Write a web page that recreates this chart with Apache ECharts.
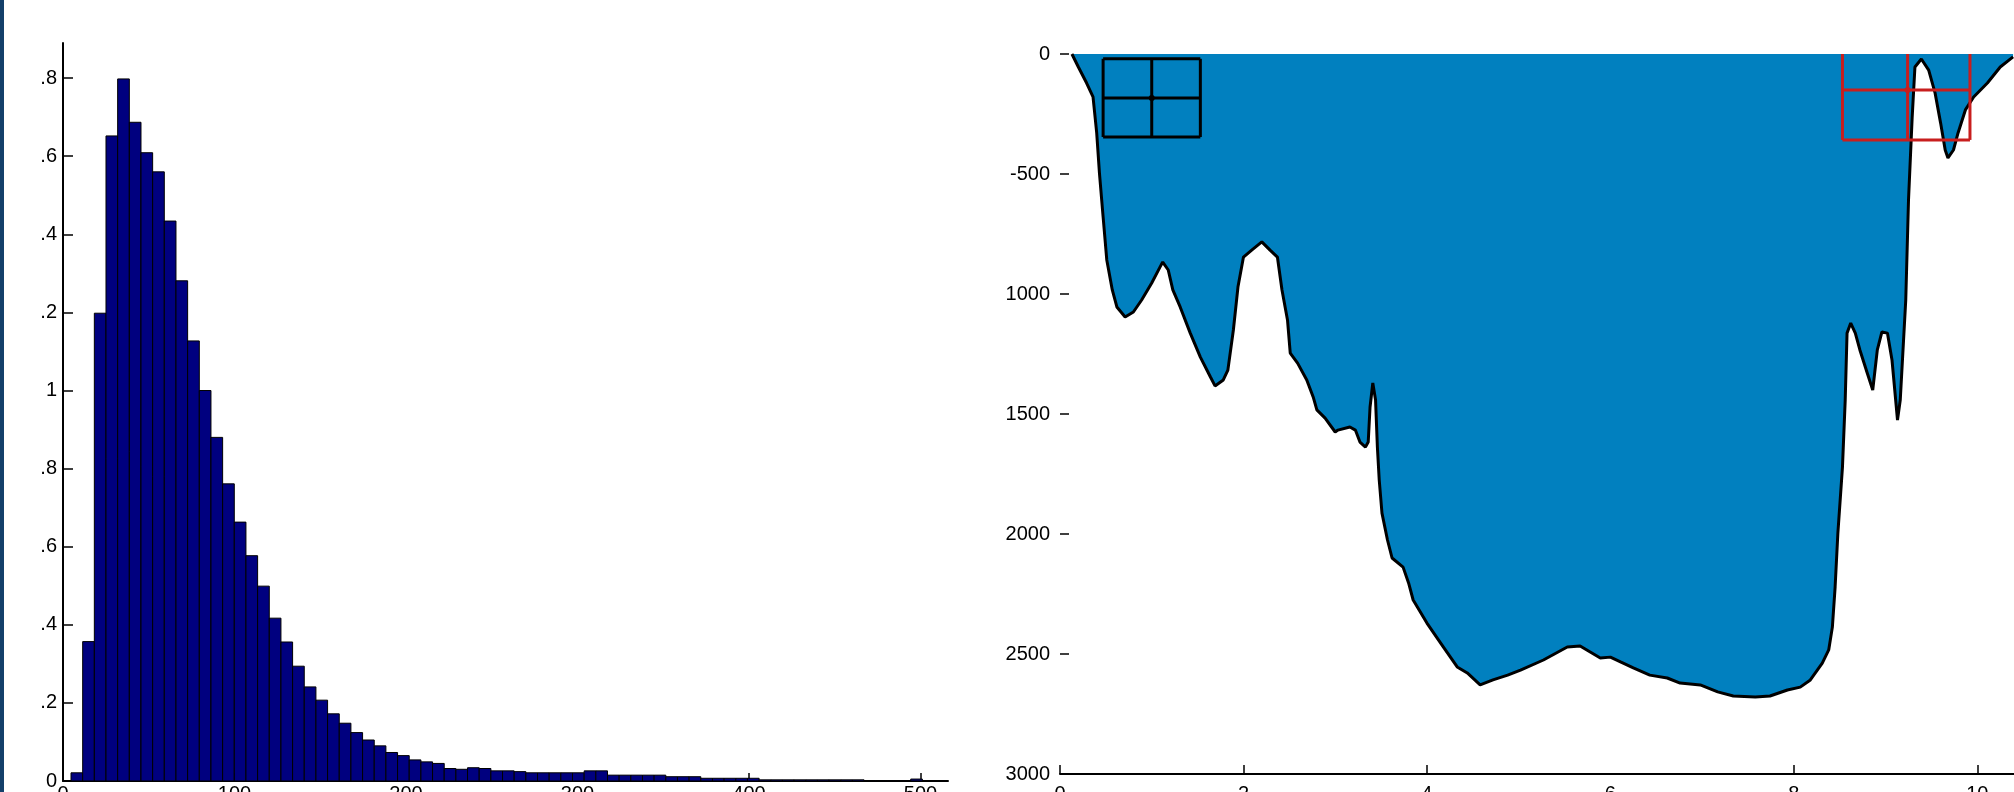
<!DOCTYPE html>
<html>
<head>
<meta charset="utf-8">
<title>Histogram and depth section</title>
<script src="https://cdn.jsdelivr.net/npm/echarts@6.0.0/dist/echarts.min.js"></script>
<style>
  html, body { margin: 0; padding: 0; background: #fff; }
  #chart { width: 2014px; height: 792px; }
</style>
</head>
<body>
<div id="chart"></div>
<script>
// ---- left panel: histogram ----
const histStart = 4.67;     // left edge of first bin
const histBinWidth = 6.8;
const histCounts = [
  0.021, 0.357, 1.198, 1.652, 1.798, 1.687, 1.609, 1.560, 1.434, 1.281,
  1.127, 1.000, 0.880, 0.761, 0.663, 0.577, 0.499, 0.417, 0.356, 0.294,
  0.241, 0.207, 0.172, 0.148, 0.124, 0.105, 0.090, 0.073, 0.065, 0.054,
  0.049, 0.045, 0.032, 0.030, 0.034, 0.032, 0.026, 0.026, 0.024, 0.021,
  0.021, 0.021, 0.021, 0.021, 0.026, 0.026, 0.015, 0.015, 0.015, 0.015,
  0.015, 0.011, 0.011, 0.011, 0.007, 0.007, 0.007, 0.007, 0.007, 0.003,
  0.003, 0.003, 0.003, 0.003, 0.003, 0.003, 0.003, 0.003, 0.001, 0.001,
  0.001, 0.001, 0.005
];
const histXTicks = [0, 100, 200, 300, 400, 500];
const histYTicks = [0, 0.2, 0.4, 0.6, 0.8, 1, 1.2, 1.4, 1.6, 1.8];

// ---- right panel: depth section ----
const sectionDist = [
  0.13, 0.20, 0.29, 0.36, 0.40, 0.43, 0.47, 0.51, 0.57, 0.62,
  0.71, 0.80, 0.89, 1.00, 1.09, 1.12, 1.18, 1.23, 1.31, 1.42,
  1.53, 1.64, 1.69, 1.78, 1.83, 1.89, 1.94, 2.00, 2.09, 2.20,
  2.29, 2.37, 2.42, 2.48, 2.51, 2.59, 2.69, 2.76, 2.80, 2.89,
  3.00, 3.03, 3.16, 3.22, 3.27, 3.33, 3.36, 3.38, 3.41, 3.44,
  3.46, 3.48, 3.51, 3.57, 3.62, 3.74, 3.80, 3.85, 4.00, 4.18,
  4.33, 4.44, 4.58, 4.72, 4.88, 5.02, 5.27, 5.53, 5.67, 5.78,
  5.89, 6.00, 6.11, 6.25, 6.43, 6.62, 6.76, 6.98, 7.17, 7.34,
  7.58, 7.74, 7.93, 8.07, 8.18, 8.31, 8.38, 8.42, 8.45, 8.48,
  8.53, 8.56, 8.58, 8.62, 8.67, 8.72, 8.80, 8.86, 8.91, 8.96,
  9.02, 9.07, 9.13, 9.16, 9.22, 9.25, 9.29, 9.32, 9.39, 9.47,
  9.54, 9.60, 9.65, 9.68, 9.74, 9.79, 9.87, 9.96, 10.11, 10.25,
  10.39
];
const sectionDepth = [
  0, 54, 121, 179, 329, 496, 679, 858, 983, 1054,
  1096, 1075, 1025, 954, 888, 867, 900, 983, 1054, 1163,
  1263, 1346, 1383, 1358, 1317, 1150, 971, 846, 817, 783,
  817, 846, 983, 1108, 1246, 1288, 1358, 1429, 1483, 1517,
  1575, 1567, 1554, 1567, 1617, 1638, 1617, 1471, 1371, 1442,
  1638, 1775, 1913, 2025, 2100, 2138, 2204, 2275, 2371, 2471,
  2554, 2579, 2629, 2608, 2588, 2567, 2525, 2471, 2467, 2492,
  2517, 2513, 2533, 2558, 2588, 2600, 2621, 2629, 2658, 2675,
  2679, 2675, 2650, 2638, 2608, 2538, 2483, 2388, 2221, 1996,
  1721, 1442, 1163, 1121, 1163, 1233, 1329, 1400, 1233, 1158,
  1163, 1275, 1525, 1442, 1025, 608, 263, 54, 21, 67,
  163, 288, 400, 433, 400, 329, 233, 179, 121, 54,
  12
];
const sectionXLabels = [0, 2, 4, 6, 8, 10];
const sectionXTickMarks = [0, 2, 4, 8, 10];
const sectionYTicks = [0, 500, 1000, 1500, 2000, 2500, 3000];

// 2x2 cell grids drawn on the section
const blackCellX = [0.47, 1.0, 1.53];
const blackCellDepth = [20, 183, 346];
const redCellX = [8.53, 9.24, 9.92];
const redCellDepth = [-58, 150, 358];

const FONT = 'Liberation Sans, Arial, sans-serif';

const histData = histCounts.map((h, i) => [
  histStart + i * histBinWidth,
  histStart + (i + 1) * histBinWidth,
  h
]);
const sectionData = sectionDist.map((x, i) => [x, sectionDepth[i]]);

function cellRenderer(xs, ds, color) {
  return function (params, api) {
    const children = [];
    xs.forEach(x => {
      const a = api.coord([x, ds[0]]);
      const b = api.coord([x, ds[2]]);
      children.push({ type: 'line', shape: { x1: a[0], y1: a[1], x2: b[0], y2: b[1] },
        style: { stroke: color, lineWidth: 3 } });
    });
    ds.forEach(d => {
      const a = api.coord([xs[0], d]);
      const b = api.coord([xs[2], d]);
      children.push({ type: 'line', shape: { x1: a[0], y1: a[1], x2: b[0], y2: b[1] },
        style: { stroke: color, lineWidth: 3 } });
    });
    const c = api.coord([xs[1], ds[1]]);
    children.push({ type: 'circle', shape: { cx: c[0], cy: c[1], r: 3 }, style: { fill: color } });
    return { type: 'group', children };
  };
}

function histLabel(v) {
  const s = Number(v).toFixed(1);
  if (s.endsWith('.0')) return s.slice(0, -2);
  return s.slice(s.indexOf('.'));
}

const chart = echarts.init(document.getElementById('chart'), null, { renderer: 'canvas' });

chart.setOption({
  animation: false,
  backgroundColor: '#ffffff',
  textStyle: { fontFamily: FONT },
  graphic: [{
    type: 'rect', left: 0, top: 0,
    shape: { width: 4, height: 792 },
    style: { fill: '#14406a' }
  }],
  grid: [
    { left: 63, top: 43, width: 885, bottom: 11, containLabel: false, outerBoundsMode: 'none' },
    { left: 1060, top: 54, right: 0, bottom: 18, containLabel: false, outerBoundsMode: 'none' }
  ],
  xAxis: [
    {
      gridIndex: 0, type: 'value', min: 0, max: 516,
      axisLine: { onZero: false, lineStyle: { color: '#000', width: 2 } },
      axisTick: { inside: true, length: 8, customValues: histXTicks, lineStyle: { color: '#000', width: 1.5 } },
      axisLabel: { customValues: histXTicks, margin: 3, color: '#000', fontSize: 20, fontFamily: FONT },
      splitLine: { show: false }
    },
    {
      gridIndex: 1, type: 'value', min: 0, max: 10.4,
      axisLine: { onZero: false, lineStyle: { color: '#000', width: 2 } },
      axisTick: { inside: true, length: 9, customValues: sectionXTickMarks, lineStyle: { color: '#000', width: 1.5 } },
      axisLabel: { customValues: sectionXLabels, margin: 10, color: '#000', fontSize: 20, fontFamily: FONT },
      splitLine: { show: false }
    }
  ],
  yAxis: [
    {
      gridIndex: 0, type: 'value', min: 0, max: 1.89,
      axisLine: { show: true, onZero: false, lineStyle: { color: '#000', width: 2 } },
      axisTick: { show: true, inside: true, length: 10, customValues: histYTicks, lineStyle: { color: '#000', width: 1.5 } },
      axisLabel: { customValues: histYTicks, margin: 6, color: '#000', fontSize: 20, fontFamily: FONT, formatter: histLabel },
      splitLine: { show: false }
    },
    {
      gridIndex: 1, type: 'value', min: 0, max: 3000, inverse: true,
      axisLine: { show: false, onZero: false },
      axisTick: { show: true, inside: true, length: 9, customValues: sectionYTicks, lineStyle: { color: '#000', width: 1.5 } },
      axisLabel: {
        customValues: sectionYTicks, margin: 10, color: '#000', fontSize: 20, fontFamily: FONT,
        formatter: v => (v === 500 ? '-500' : String(v))
      },
      splitLine: { show: false }
    }
  ],
  series: [
    {
      name: 'histogram',
      type: 'custom',
      xAxisIndex: 0, yAxisIndex: 0,
      data: histData,
      renderItem: (params, api) => {
        const p0 = api.coord([api.value(0), api.value(2)]);
        const p1 = api.coord([api.value(1), 0]);
        return {
          type: 'rect',
          shape: { x: p0[0], y: p0[1], width: p1[0] - p0[0], height: p1[1] - p0[1] },
          style: { fill: '#00007f', stroke: '#000000', lineWidth: 1 }
        };
      }
    },
    {
      name: 'section',
      type: 'line',
      xAxisIndex: 1, yAxisIndex: 1,
      data: sectionData,
      symbol: 'none',
      lineStyle: { color: '#000', width: 3 },
      areaStyle: { color: '#0180bf', opacity: 1, origin: 'start' },
      z: 2
    },
    {
      name: 'black cells',
      type: 'custom',
      xAxisIndex: 1, yAxisIndex: 1,
      clip: true,
      data: [[blackCellX[1], blackCellDepth[1]]],
      renderItem: cellRenderer(blackCellX, blackCellDepth, '#000000'),
      z: 3
    },
    {
      name: 'red cells',
      type: 'custom',
      xAxisIndex: 1, yAxisIndex: 1,
      clip: true,
      data: [[redCellX[1], redCellDepth[1]]],
      renderItem: cellRenderer(redCellX, redCellDepth, '#c81e1e'),
      z: 3
    }
  ]
});

window.addEventListener('resize', () => chart.resize());
</script>
</body>
</html>
